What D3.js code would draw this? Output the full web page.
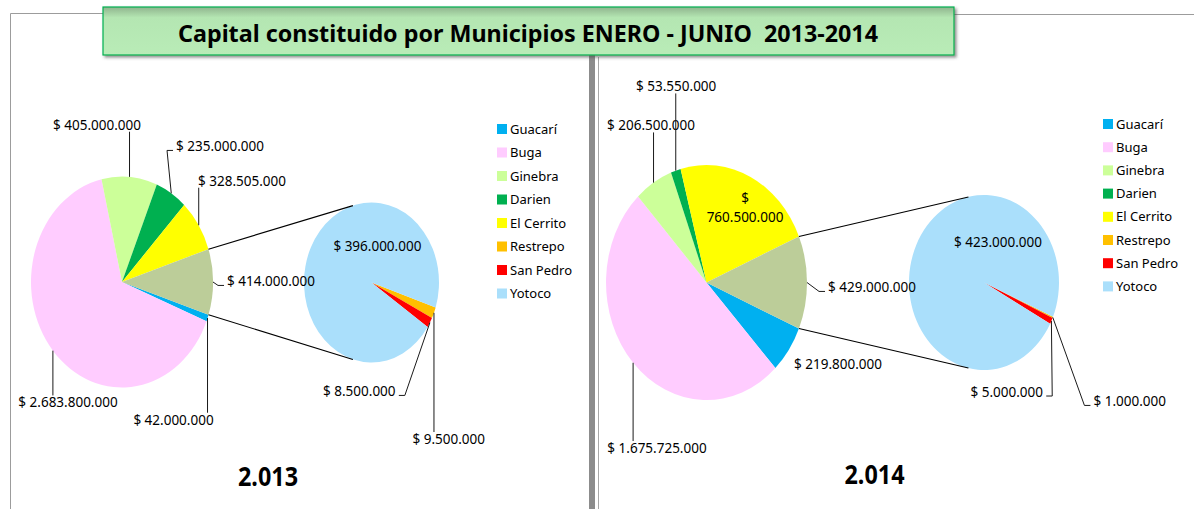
<!DOCTYPE html>
<html>
<head>
<meta charset="utf-8">
<script src="https://cdn.jsdelivr.net/npm/d3@7"></script>
<style>
  body { margin: 0; background: #fff; }
  svg text { font-family: "Noto Sans", "Open Sans", sans-serif; fill: #000; }
</style>
</head>
<body>
<svg id="chart" width="1194" height="509"></svg>
<script>
// data
const municipios = ["Guacarí", "Buga", "Ginebra", "Darien", "El Cerrito", "Restrepo", "San Pedro", "Yotoco"];
const colores = ["#00b0f0", "#ffccff", "#ccff99", "#00b050", "#ffff00", "#ffc000", "#ff0000", "#aadffb"];
const otroColor = "#bccd99";
const capital2013 = [42000000, 2683800000, 405000000, 235000000, 328505000, 9500000, 8500000, 396000000];
const capital2014 = [219800000, 1675725000, 206500000, 53550000, 760500000, 1000000, 5000000, 423000000];
const nSecundario = 3; // the last three go to the second pie
const anios = ["2.013", "2.014"];
const titulo = "Capital constituido por Municipios ENERO - JUNIO  2013-2014";

const locale = d3.formatLocale({ decimal: ",", thousands: ".", grouping: [3], currency: ["$ ", ""] });
const fmt = locale.format("$,");

// layout of each panel (label offsets are relative to the pie centre)
const panels = [
  {
    values: capital2013, year: anios[0],
    main: { cx: 122, cy: 282, rx: 91, ry: 105.5 },
    sec: { cx: 371.5, cy: 282.5, rx: 67.5, ry: 80 },
    conn: 16,
    mainLabels: [[51.5, 138], [-54, 120.7], [-25, -157], [98, -135.3], [120, -101], [149, -0.3]],
    secLabels: [[77.2, 156.8], [-12.2, 109.2], [5.9, -35.8]],
    wrap: [],
    legend: { x: 497, y: 129, step: 23.5 },
    yearPos: [268, 477]
  },
  {
    values: capital2014, year: anios[1],
    main: { cx: 706.5, cy: 282.5, rx: 100.5, ry: 117.5 },
    sec: { cx: 984, cy: 282.5, rx: 75, ry: 87.5 },
    conn: 12,
    mainLabels: [[131.5, 81.8], [-49.5, 165.8], [-55.5, -156.8], [-30.3, -195.8], [38.5, -74.5], [165.5, 5.2]],
    secLabels: [[145.7, 119.2], [22.7, 109.8], [14, -39.8]],
    wrap: [4],
    legend: { x: 1103, y: 124, step: 23.2 },
    yearPos: [874.5, 475]
  }
];

const svg = d3.select("#chart");

// frame lines
svg.append("path").attr("d", "M10.5,509 V13.5 H110").attr("fill", "none").attr("stroke", "#9c9c9c");
svg.append("line").attr("x1", 950).attr("x2", 1194).attr("y1", 14.5).attr("y2", 14.5).attr("stroke", "#9c9c9c");
svg.append("rect").attr("x", 589).attr("y", 55).attr("width", 6).attr("height", 454).attr("fill", "#8c8c8c");
svg.append("line").attr("x1", 598.5).attr("x2", 598.5).attr("y1", 57).attr("y2", 509).attr("stroke", "#a8a8a8");

// title box
const defs = svg.append("defs");
const grad = defs.append("linearGradient").attr("id", "tg").attr("x1", 0).attr("x2", 0).attr("y1", 0).attr("y2", 1);
grad.append("stop").attr("offset", 0).attr("stop-color", "#8fb48e");
grad.append("stop").attr("offset", 0.22).attr("stop-color", "#b4e6b2");
grad.append("stop").attr("offset", 1).attr("stop-color", "#b9ecb7");
const sh = defs.append("filter").attr("id", "sh").attr("x", "-5%").attr("y", "-20%").attr("width", "110%").attr("height", "160%");
sh.append("feDropShadow").attr("dx", 2).attr("dy", 2).attr("stdDeviation", 1.5).attr("flood-color", "#444").attr("flood-opacity", 0.6);

svg.append("rect").attr("x", 103).attr("y", 7).attr("width", 851).attr("height", 48)
  .attr("fill", "url(#tg)").attr("stroke", "#00b050").attr("stroke-width", 1.2).attr("filter", "url(#sh)");
svg.append("text").attr("x", 528).attr("y", 32).attr("text-anchor", "middle").attr("dominant-baseline", "central")
  .style("white-space", "pre")
  .attr("font-size", 24).attr("font-weight", "bold").attr("textLength", 700).attr("lengthAdjust", "spacingAndGlyphs")
  .text(titulo);

function rimPoint(p, a) {
  return [p.cx + p.rx * Math.sin(a), p.cy - p.ry * Math.cos(a)];
}

function drawPie(g, p, items) {
  const grp = g.append("g").attr("transform", `translate(${p.cx},${p.cy}) scale(${p.rx / p.ry},1)`);
  const arc = d3.arc().innerRadius(0).outerRadius(p.ry);
  grp.selectAll("path").data(items).join("path")
    .attr("d", arc)
    .attr("fill", (d) => d.data.color);
}

function drawLabel(g, p, d, off, wrap) {
  const lx = p.cx + off[0], ly = p.cy + off[1];
  const t = g.append("text").attr("x", lx).attr("y", ly).attr("text-anchor", "middle").attr("font-size", 13.5);
  const s = fmt(d.data.value);
  if (wrap) {
    t.append("tspan").attr("x", lx).attr("dy", "-0.35em").text("$");
    t.append("tspan").attr("x", lx).attr("dy", "1.4em").text(s.replace("$ ", ""));
  } else {
    t.attr("dy", "0.35em").text(s);
  }
  // leader line, only for labels outside the pie
  const inside = (off[0] / p.rx) ** 2 + (off[1] / p.ry) ** 2 < 1;
  if (inside) return;
  const bb = t.node().getBBox();
  const mid = (d.startAngle + d.endAngle) / 2;
  const rim = rimPoint(p, mid);
  const dx = Math.max(bb.x - rim[0], 0, rim[0] - bb.x - bb.width);
  const dy = Math.max(bb.y + 3 - rim[1], 0, rim[1] - bb.y - bb.height + 3);
  if (Math.hypot(dx, dy) < 12) return;
  let pts;
  const cy = bb.y + bb.height / 2;
  if (rim[0] >= bb.x && rim[0] <= bb.x + bb.width) {
    pts = [rim, [rim[0], rim[1] < bb.y ? bb.y + 2 : bb.y + bb.height - 2]];
  } else if (rim[0] < bb.x) {
    pts = [rim, [bb.x - 9, cy + 4], [bb.x - 3, cy + 4]];
  } else {
    pts = [rim, [bb.x + bb.width + 9, cy + 4], [bb.x + bb.width + 3, cy + 4]];
  }
  g.append("path").attr("d", d3.line()(pts)).attr("fill", "none").attr("stroke", "#1a1a1a").attr("stroke-width", 1);
}

panels.forEach(function (pn) {
  const g = svg.append("g");
  const nMain = municipios.length - nSecundario;
  const otro = d3.sum(pn.values.slice(nMain));
  const mainData = pn.values.slice(0, nMain).map((v, i) => ({ name: municipios[i], value: v, color: colores[i] }));
  mainData.push({ name: "Otro", value: otro, color: otroColor });
  const secData = pn.values.slice(nMain).map((v, i) => ({ name: municipios[nMain + i], value: v, color: colores[nMain + i] }));

  const total = d3.sum(mainData, (d) => d.value);
  const start = Math.PI / 2 + (Math.PI * otro) / total; // "other" slice centred at 3 o'clock
  const pie = d3.pie().sort(null).value((d) => d.value).startAngle(start).endAngle(start + 2 * Math.PI);
  const mainArcs = pie(mainData);
  const secArcs = pie(secData);

  drawPie(g, pn.main, mainArcs);
  drawPie(g, pn.sec, secArcs);

  // connector lines between the "other" slice and the second pie
  const oa = mainArcs[mainArcs.length - 1];
  const c = (pn.conn * Math.PI) / 180;
  const lines = [
    [rimPoint(pn.main, oa.startAngle), rimPoint(pn.sec, -c)],
    [rimPoint(pn.main, oa.endAngle), rimPoint(pn.sec, Math.PI + c)]
  ];
  g.selectAll(".conn").data(lines).join("path").attr("class", "conn")
    .attr("d", (d) => d3.line()(d)).attr("stroke", "#000").attr("stroke-width", 1.1);

  mainArcs.forEach((d, i) => drawLabel(g, pn.main, d, pn.mainLabels[i], pn.wrap.includes(i)));
  secArcs.forEach((d, i) => drawLabel(g, pn.sec, d, pn.secLabels[i], false));

  // legend
  const lg = g.append("g");
  const item = lg.selectAll("g").data(municipios).join("g")
    .attr("transform", (d, i) => `translate(${pn.legend.x},${pn.legend.y + i * pn.legend.step})`);
  item.append("rect").attr("x", 0).attr("y", -5).attr("width", 10).attr("height", 10).attr("fill", (d, i) => colores[i]);
  item.append("text").attr("x", 13).attr("dy", "0.35em").attr("font-size", 13).text((d) => d);

  // year
  g.append("text").attr("x", pn.yearPos[0]).attr("y", pn.yearPos[1]).attr("dy", "0.35em").attr("text-anchor", "middle")
    .attr("font-size", 26).attr("font-weight", "bold").attr("textLength", 60).attr("lengthAdjust", "spacingAndGlyphs")
    .text(pn.year);
});
</script>
</body>
</html>
